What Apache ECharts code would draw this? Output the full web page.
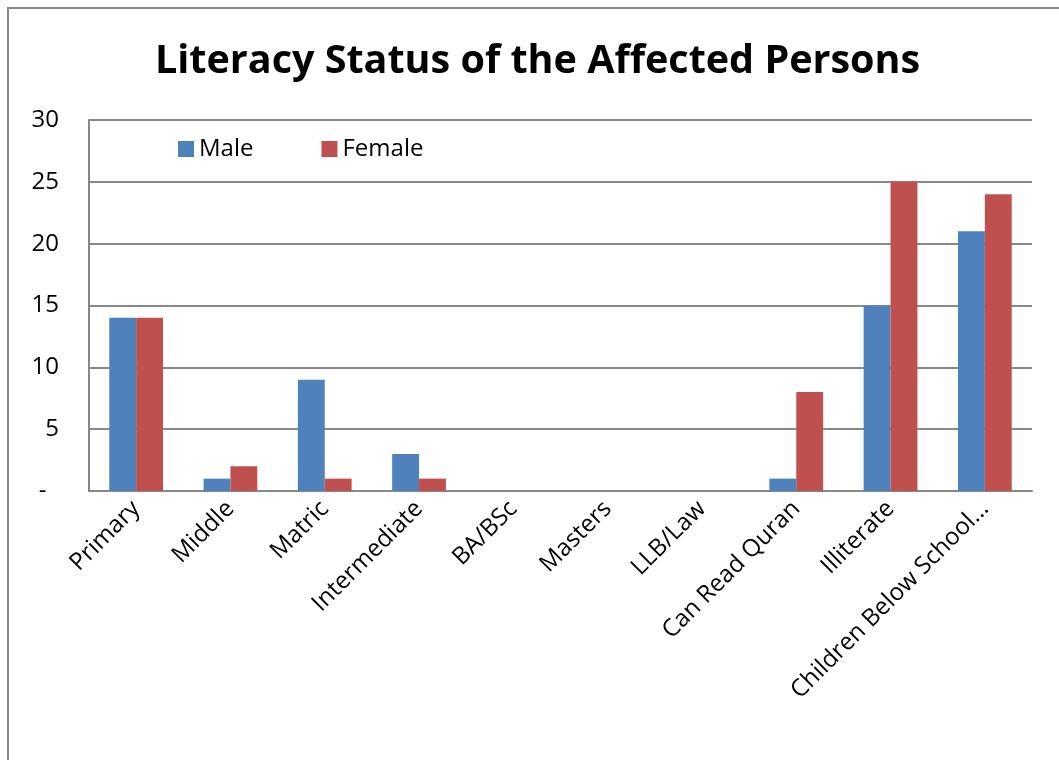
<!DOCTYPE html>
<html>
<head>
    <meta charset="utf-8">
    <title>Literacy Status</title>
    <script src="https://cdn.jsdelivr.net/npm/echarts@6/dist/echarts.min.js"></script>
    <style>
        html, body { margin: 0; padding: 0; background: #fff; }
        #chart { width: 1059px; height: 760px; }
    </style>
</head>
<body>
    <div id="chart"></div>
    <script type="text/javascript">
        // data
        const categories = ['Primary', 'Middle', 'Matric', 'Intermediate', 'BA/BSc', 'Masters', 'LLB/Law', 'Can Read Quran', 'Illiterate', 'Children Below School\u2026'];
        const maleValues = [14, 1, 9, 3, 0, 0, 0, 1, 15, 21];
        const femaleValues = [14, 2, 1, 1, 0, 0, 0, 8, 25, 24];
        const seriesNames = ['Male', 'Female'];

        const font = '"Open Sans", sans-serif';
        const chart = echarts.init(document.getElementById('chart'));

        const option = {
            animation: false,
            title: {
                text: 'Literacy Status of the Affected Persons',
                left: 150,
                top: 37,
                textStyle: { fontFamily: font, fontSize: 39.5, fontWeight: 'bold', color: '#000' }
            },
            legend: {
                data: seriesNames,
                left: 173,
                top: 132,
                itemWidth: 16,
                itemHeight: 16,
                itemGap: 68,
                icon: 'rect',
                textStyle: { fontFamily: font, fontSize: 24, color: '#000' }
            },
            grid: { left: 89, right: 27, top: 120, bottom: 269 },
            graphic: [{
                type: 'rect',
                shape: { x: 8, y: 8, width: 1100, height: 800 },
                style: { fill: 'none', stroke: '#888', lineWidth: 2 },
                silent: true
            }],
            xAxis: {
                type: 'category',
                data: categories,
                axisLine: { lineStyle: { color: '#888', width: 2 } },
                axisTick: { show: false },
                axisLabel: { rotate: 45, interval: 0, margin: 14, fontFamily: font, fontSize: 24, color: '#000' }
            },
            yAxis: {
                type: 'value',
                min: 0,
                max: 30,
                interval: 5,
                axisLine: { show: true, lineStyle: { color: '#888', width: 2 } },
                axisTick: { show: false },
                splitLine: { lineStyle: { color: '#888', width: 2 } },
                axisLabel: {
                    margin: 30,
                    fontFamily: font,
                    fontSize: 24,
                    color: '#000',
                    formatter: function (v) { return v === 0 ? '-  ' : String(v); }
                }
            },
            series: [{
                name: seriesNames[0],
                type: 'bar',
                data: maleValues,
                barGap: '0%',
                barCategoryGap: '43%',
                itemStyle: { color: '#4F81BD' }
            }, {
                name: seriesNames[1],
                type: 'bar',
                data: femaleValues,
                itemStyle: { color: '#C0504D' }
            }]
        };
        chart.setOption(option);
    </script>
</body>
</html>
